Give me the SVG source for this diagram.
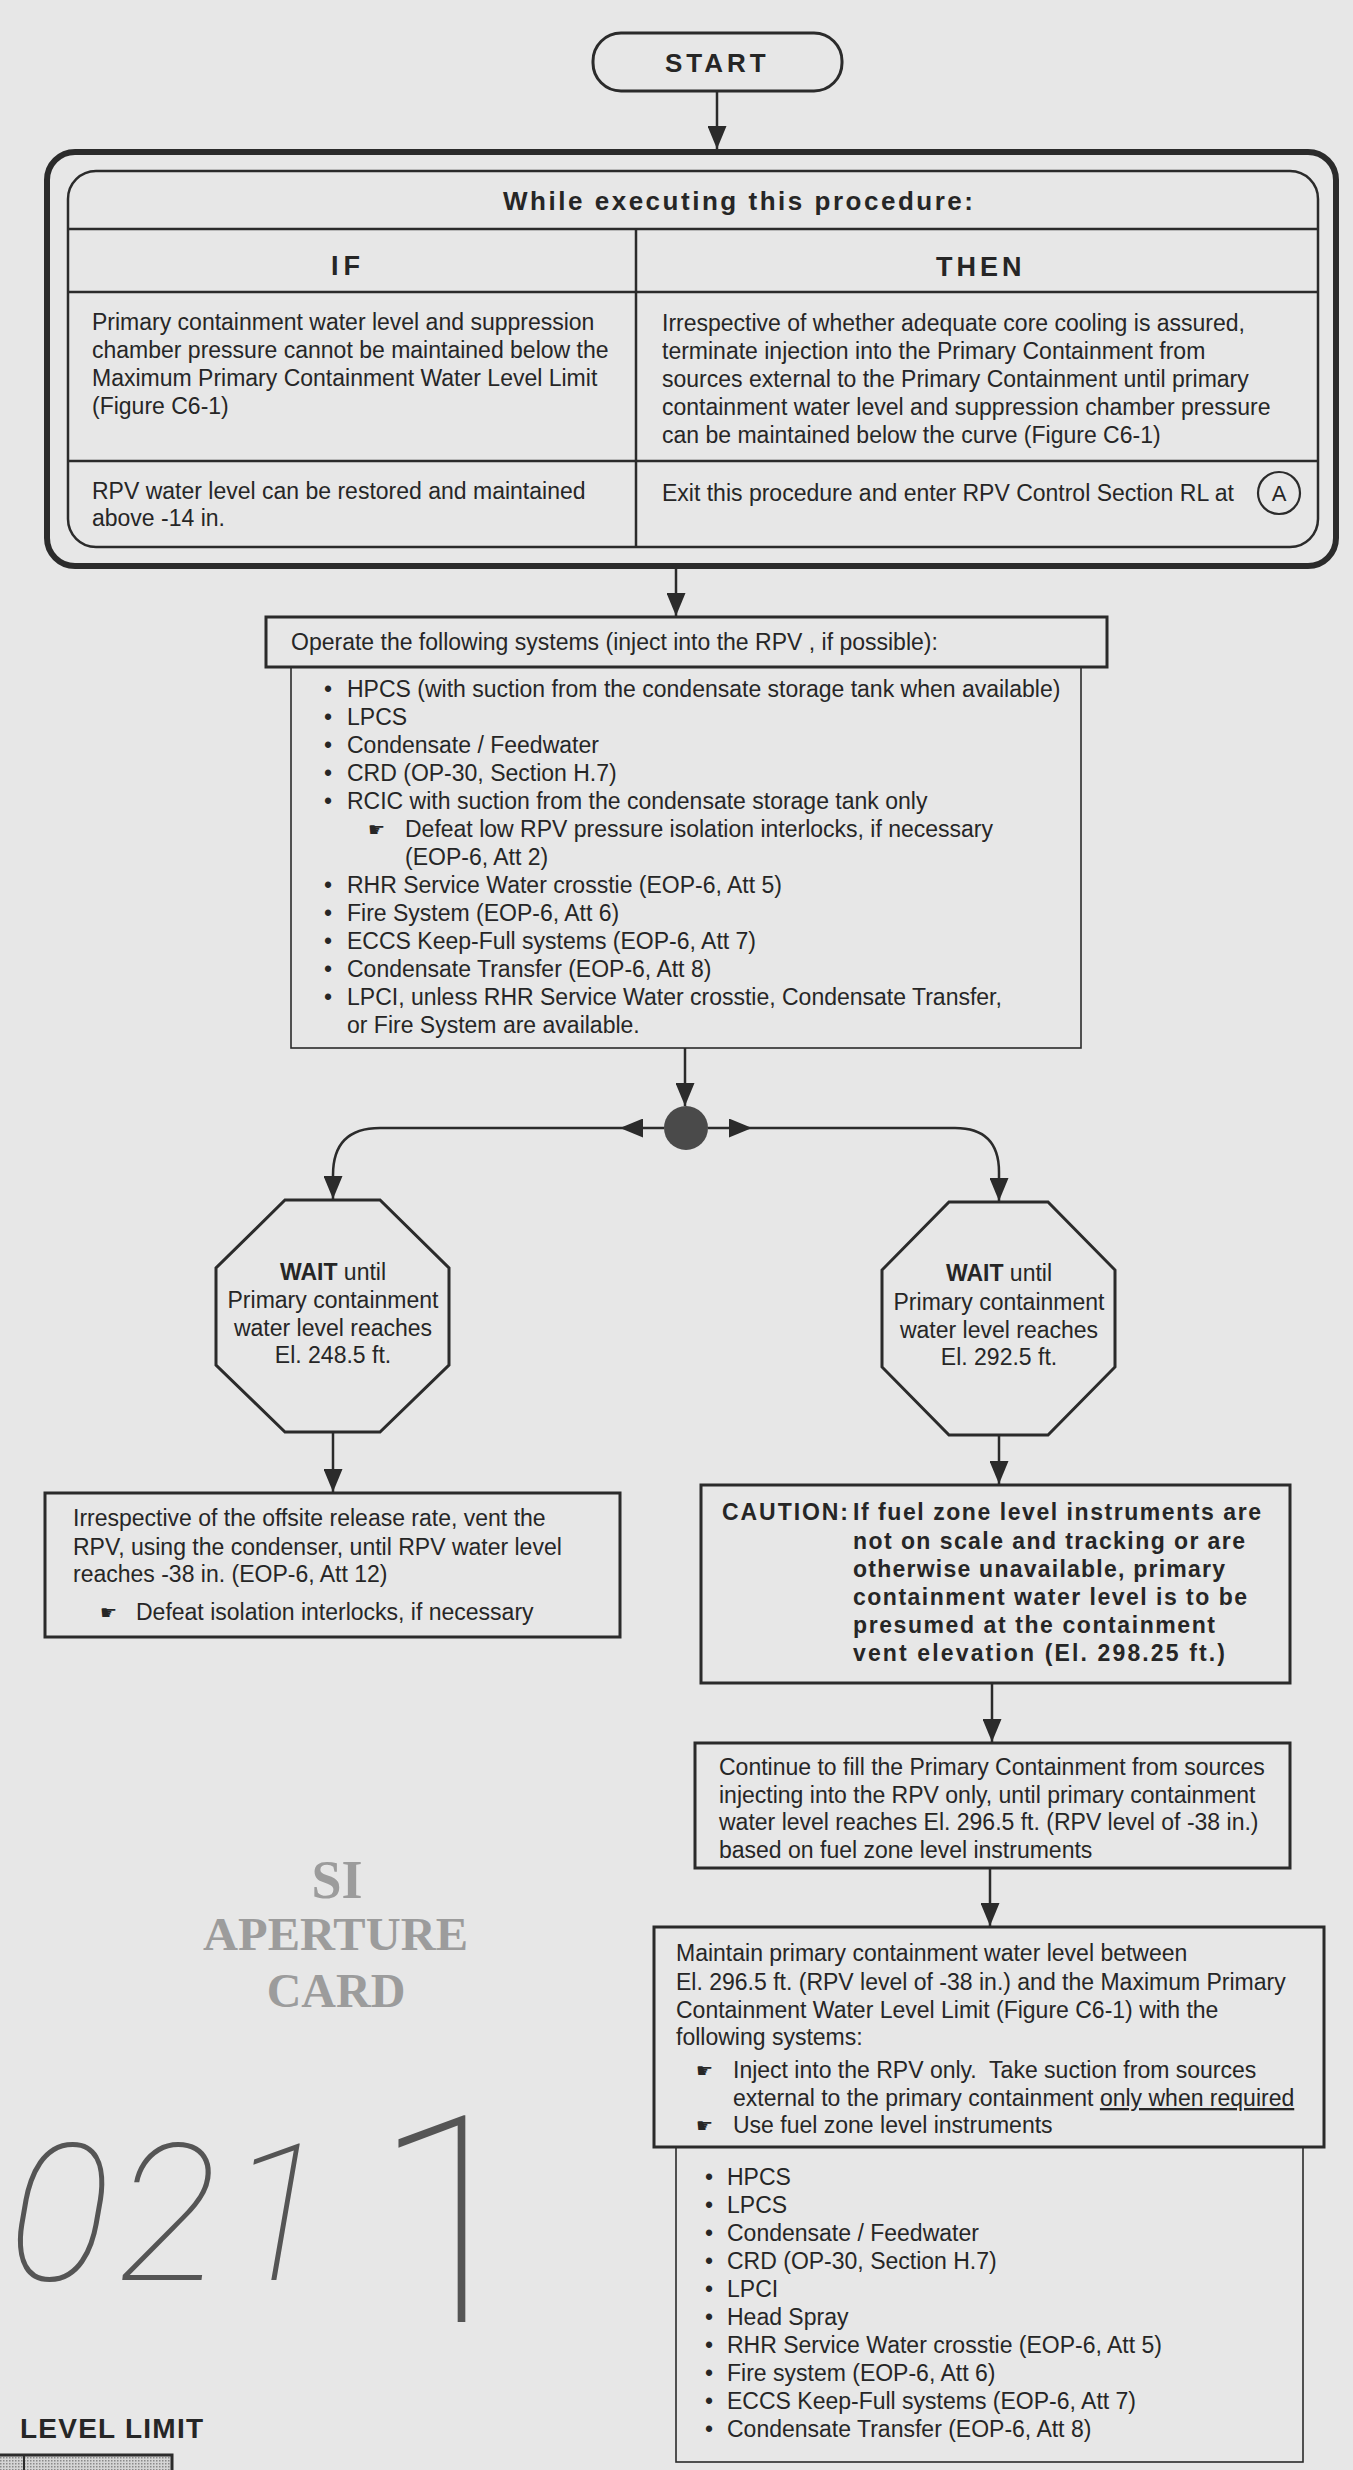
<svg xmlns="http://www.w3.org/2000/svg" width="1353" height="2470" viewBox="0 0 1353 2470">
<style>
.t{font-family:"Liberation Sans",Arial,sans-serif;font-size:23px;fill:#262626}
.b{font-weight:bold}
.box{fill:none;stroke:#2b2b2b;stroke-width:3}
.thin{fill:none;stroke:#2b2b2b;stroke-width:1.6}
.ln{fill:none;stroke:#2b2b2b;stroke-width:2.5}
.con{fill:none;stroke:#2b2b2b;stroke-width:2.5}
.hand{font-family:"DejaVu Sans",sans-serif;font-size:19px;fill:#262626}
.stamp{font-family:"Liberation Serif","Times New Roman",serif;font-weight:bold;fill:#9c9c9c}
.hw{font-family:Roboto,"DejaVu Sans",sans-serif;font-weight:100;fill:#555}
</style>
<defs>
<marker id="ah" viewBox="0 0 23 19" refX="23" refY="9.5" markerWidth="23" markerHeight="19" markerUnits="userSpaceOnUse" orient="auto">
<path d="M0,0 L23,9.5 L0,19 z" fill="#2b2b2b"/>
</marker>
<pattern id="dots" width="3" height="3" patternUnits="userSpaceOnUse">
<rect width="3" height="3" fill="#d4d4d4"/>
<rect width="1.5" height="1.5" fill="#8a8a8a"/>
</pattern>
</defs>
<rect width="1353" height="2470" fill="#e7e7e7"/>

<g id="start">
<rect x="593" y="33" width="249" height="58" rx="28" class="box"/>
<text x="665" y="72" class="t b" style="font-size:26px;letter-spacing:4px">START</text>
</g>

<g id="while-table">
<rect x="47" y="152" width="1289" height="414" rx="28" fill="none" stroke="#2b2b2b" stroke-width="6"/>
<rect x="68" y="171" width="1250" height="376" rx="28" class="ln"/>
<line x1="68" y1="229" x2="1318" y2="229" class="ln" stroke-width="3"/>
<line x1="68" y1="292" x2="1318" y2="292" class="ln"/>
<line x1="68" y1="461" x2="1318" y2="461" class="ln"/>
<line x1="636" y1="229" x2="636" y2="547" class="ln"/>
<text x="503" y="210" class="t b" style="font-size:26px" textLength="470" lengthAdjust="spacing">While executing this procedure:</text>
<text x="331" y="275" class="t b" style="font-size:27px;letter-spacing:5px">IF</text>
<text x="936" y="276" class="t b" style="font-size:27px;letter-spacing:4px">THEN</text>
<text class="t" x="92" y="330">Primary containment water level and suppression</text>
<text class="t" x="92" y="358">chamber pressure cannot be maintained below the</text>
<text class="t" x="92" y="386">Maximum Primary Containment Water Level Limit</text>
<text class="t" x="92" y="414">(Figure C6-1)</text>
<text class="t" x="662" y="331">Irrespective of whether adequate core cooling is assured,</text>
<text class="t" x="662" y="359">terminate injection into the Primary Containment from</text>
<text class="t" x="662" y="387">sources external to the Primary Containment until primary</text>
<text class="t" x="662" y="415">containment water level and suppression chamber pressure</text>
<text class="t" x="662" y="443">can be maintained below the curve (Figure C6-1)</text>
<text class="t" x="92" y="499">RPV water level can be restored and maintained</text>
<text class="t" x="92" y="526">above -14 in.</text>
<text class="t" x="662" y="501">Exit this procedure and enter RPV Control Section RL at</text>
<circle cx="1279" cy="493" r="21" fill="none" stroke="#2b2b2b" stroke-width="2.2"/>
<text class="t" x="1279" y="501" text-anchor="middle" style="font-size:22px">A</text>
</g>

<g id="operate">
<rect x="291" y="667" width="790" height="381" class="thin"/>
<rect x="266" y="617" width="841" height="50" class="box" stroke-width="3.5"/>
<text class="t" x="291" y="650">Operate the following systems (inject into the RPV , if possible):</text>
<g class="t">
<text x="324" y="697">•</text><text x="347" y="697">HPCS (with suction from the condensate storage tank when available)</text>
<text x="324" y="725">•</text><text x="347" y="725">LPCS</text>
<text x="324" y="753">•</text><text x="347" y="753">Condensate / Feedwater</text>
<text x="324" y="781">•</text><text x="347" y="781">CRD (OP-30, Section H.7)</text>
<text x="324" y="809">•</text><text x="347" y="809">RCIC with suction from the condensate storage tank only</text>
<text x="405" y="837">Defeat low RPV pressure isolation interlocks, if necessary</text>
<text x="405" y="865">(EOP-6, Att 2)</text>
<text x="324" y="893">•</text><text x="347" y="893">RHR Service Water crosstie (EOP-6, Att 5)</text>
<text x="324" y="921">•</text><text x="347" y="921">Fire System (EOP-6, Att 6)</text>
<text x="324" y="949">•</text><text x="347" y="949">ECCS Keep-Full systems (EOP-6, Att 7)</text>
<text x="324" y="977">•</text><text x="347" y="977">Condensate Transfer (EOP-6, Att 8)</text>
<text x="324" y="1005">•</text><text x="347" y="1005">LPCI, unless RHR Service Water crosstie, Condensate Transfer,</text>
<text x="347" y="1033">or Fire System are available.</text>
</g>
<text class="hand" x="368" y="836">☛</text>
</g>

<g id="junction">
<circle cx="686" cy="1128" r="22" fill="#4a4a4a"/>
</g>

<g id="wait-left">
<polygon points="285,1200 380,1200 449,1268 449,1365 380,1432 285,1432 216,1365 216,1268" class="box" stroke-width="2.6"/>
<text class="t" x="333" y="1280" text-anchor="middle"><tspan class="b">WAIT</tspan> until</text>
<text class="t" x="333" y="1308" text-anchor="middle">Primary containment</text>
<text class="t" x="333" y="1336" text-anchor="middle">water level reaches</text>
<text class="t" x="333" y="1363" text-anchor="middle">El. 248.5 ft.</text>
</g>

<g id="wait-right">
<polygon points="949,1202 1048,1202 1115,1270 1115,1367 1048,1435 949,1435 882,1367 882,1270" class="box" stroke-width="2.6"/>
<text class="t" x="999" y="1281" text-anchor="middle"><tspan class="b">WAIT</tspan> until</text>
<text class="t" x="999" y="1310" text-anchor="middle">Primary containment</text>
<text class="t" x="999" y="1338" text-anchor="middle">water level reaches</text>
<text class="t" x="999" y="1365" text-anchor="middle">El. 292.5 ft.</text>
</g>

<g id="vent">
<rect x="45" y="1493" width="575" height="144" class="box"/>
<text class="t" x="73" y="1526">Irrespective of the offsite release rate, vent the</text>
<text class="t" x="73" y="1555">RPV, using the condenser, until RPV water level</text>
<text class="t" x="73" y="1582">reaches -38 in. (EOP-6, Att 12)</text>
<text class="hand" x="100" y="1619">☛</text>
<text class="t" x="136" y="1620">Defeat isolation interlocks, if necessary</text>
</g>

<g id="caution">
<rect x="701" y="1485" width="589" height="198" class="box"/>
<text class="t b" x="722" y="1520" textLength="126" lengthAdjust="spacing">CAUTION:</text>
<text class="t b" x="853" y="1520" textLength="408" lengthAdjust="spacing">If fuel zone level instruments are</text>
<text class="t b" x="853" y="1549" textLength="392" lengthAdjust="spacing">not on scale and tracking or are</text>
<text class="t b" x="853" y="1577" textLength="372" lengthAdjust="spacing">otherwise unavailable, primary</text>
<text class="t b" x="853" y="1605" textLength="394" lengthAdjust="spacing">containment water level is to be</text>
<text class="t b" x="853" y="1633" textLength="362" lengthAdjust="spacing">presumed at the containment</text>
<text class="t b" x="853" y="1661" textLength="372" lengthAdjust="spacing">vent elevation (El. 298.25 ft.)</text>
</g>

<g id="continue">
<rect x="695" y="1743" width="595" height="125" class="box"/>
<text class="t" x="719" y="1775">Continue to fill the Primary Containment from sources</text>
<text class="t" x="719" y="1803">injecting into the RPV only, until primary containment</text>
<text class="t" x="719" y="1830">water level reaches El. 296.5 ft. (RPV level of -38 in.)</text>
<text class="t" x="719" y="1858">based on fuel zone level instruments</text>
</g>

<g id="maintain">
<rect x="676" y="2147" width="627" height="315" class="thin"/>
<rect x="654" y="1927" width="670" height="220" class="box"/>
<text class="t" x="676" y="1961">Maintain primary containment water level between</text>
<text class="t" x="676" y="1990">El. 296.5 ft. (RPV level of -38 in.) and the Maximum Primary</text>
<text class="t" x="676" y="2018">Containment Water Level Limit (Figure C6-1) with the</text>
<text class="t" x="676" y="2045">following systems:</text>
<text class="hand" x="696" y="2077">☛</text>
<text class="t" x="733" y="2078">Inject into the RPV only.&#160; Take suction from sources</text>
<text class="t" x="733" y="2106">external to the primary containment <tspan style="text-decoration:underline">only when required</tspan></text>
<text class="hand" x="696" y="2132">☛</text>
<text class="t" x="733" y="2133">Use fuel zone level instruments</text>
<g class="t">
<text x="705" y="2185">•</text><text x="727" y="2185">HPCS</text>
<text x="705" y="2213">•</text><text x="727" y="2213">LPCS</text>
<text x="705" y="2241">•</text><text x="727" y="2241">Condensate / Feedwater</text>
<text x="705" y="2269">•</text><text x="727" y="2269">CRD (OP-30, Section H.7)</text>
<text x="705" y="2297">•</text><text x="727" y="2297">LPCI</text>
<text x="705" y="2325">•</text><text x="727" y="2325">Head Spray</text>
<text x="705" y="2353">•</text><text x="727" y="2353">RHR Service Water crosstie (EOP-6, Att 5)</text>
<text x="705" y="2381">•</text><text x="727" y="2381">Fire system (EOP-6, Att 6)</text>
<text x="705" y="2409">•</text><text x="727" y="2409">ECCS Keep-Full systems (EOP-6, Att 7)</text>
<text x="705" y="2437">•</text><text x="727" y="2437">Condensate Transfer (EOP-6, Att 8)</text>
</g>
</g>

<g id="connectors">
<line x1="717" y1="91" x2="717" y2="149" class="con" marker-end="url(#ah)"/>
<line x1="676" y1="569" x2="676" y2="616" class="con" marker-end="url(#ah)"/>
<line x1="685" y1="1048" x2="685" y2="1106" class="con" marker-end="url(#ah)"/>
<line x1="664" y1="1128" x2="620" y2="1128" class="con" marker-end="url(#ah)"/>
<path d="M620,1128 H380 Q333,1128 333,1175 V1199" class="con" marker-end="url(#ah)"/>
<line x1="708" y1="1128" x2="752" y2="1128" class="con" marker-end="url(#ah)"/>
<path d="M752,1128 H955 Q999,1128 999,1172 V1201" class="con" marker-end="url(#ah)"/>
<line x1="333" y1="1432" x2="333" y2="1492" class="con" marker-end="url(#ah)"/>
<line x1="999" y1="1435" x2="999" y2="1484" class="con" marker-end="url(#ah)"/>
<line x1="992" y1="1683" x2="992" y2="1742" class="con" marker-end="url(#ah)"/>
<line x1="990" y1="1868" x2="990" y2="1926" class="con" marker-end="url(#ah)"/>
</g>

<g id="annotations">
<text class="stamp" x="337" y="1898" text-anchor="middle" style="font-size:54px">SI</text>
<text class="stamp" x="203" y="1950" style="font-size:46px" textLength="265" lengthAdjust="spacingAndGlyphs">APERTURE</text>
<text class="stamp" x="336" y="2007" text-anchor="middle" style="font-size:48px">CARD</text>
<text class="hw" x="8" y="2280" style="font-style:italic;font-size:192px" textLength="320" lengthAdjust="spacing">021</text>
<text class="hw" x="372" y="2322" style="font-size:290px">1</text>
<text class="t b" x="20" y="2438" style="font-size:28px" textLength="183" lengthAdjust="spacing">LEVEL LIMIT</text>
<rect x="-10" y="2455" width="182" height="30" fill="url(#dots)" stroke="#2b2b2b" stroke-width="3"/>
<line x1="24" y1="2455" x2="24" y2="2470" stroke="#2b2b2b" stroke-width="2"/>
</g>
</svg>
